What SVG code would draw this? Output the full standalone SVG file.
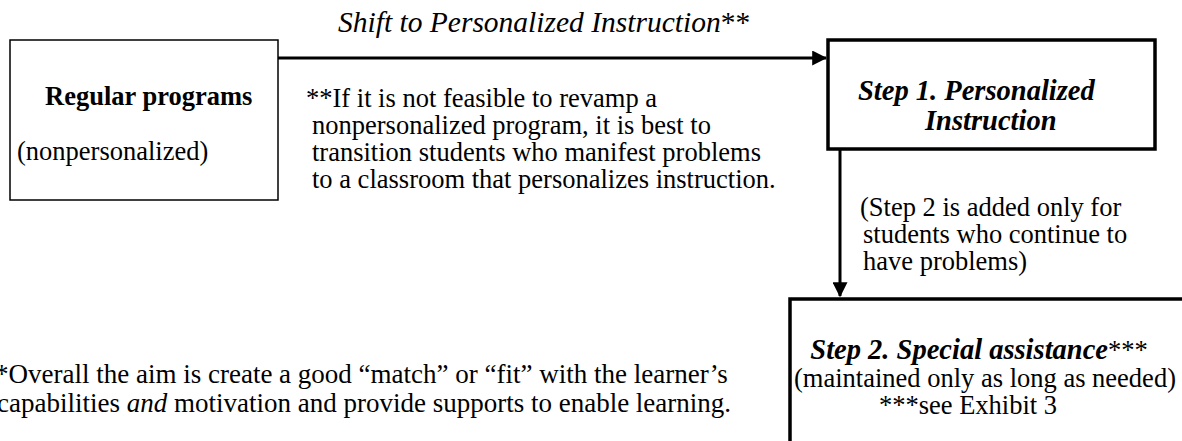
<svg xmlns="http://www.w3.org/2000/svg" width="1182" height="441" viewBox="0 0 1182 441" font-family="'Liberation Serif', 'Times New Roman', 'DejaVu Serif', serif">
<defs>
<style>
text{font-family:'Liberation Serif','Times New Roman','DejaVu Serif',serif;fill:#000;font-size:26.5px}
.b{font-weight:bold}
.bi{font-weight:bold;font-style:italic;font-size:28.5px}
.sh{font-style:italic;font-size:29.5px}
.ft{font-size:27px}
.thin{fill:#fff;stroke:#000;stroke-width:1.5}
.thick{fill:#fff;stroke:#000;stroke-width:3.5}
.conn{stroke:#000;stroke-width:3;fill:none}
</style>
<marker id="ah" markerWidth="5" markerHeight="5" refX="4.6" refY="2.5" orient="auto" markerUnits="strokeWidth">
<path d="M0,0 L5,2.5 L0,5 Z" fill="#000"/>
</marker>
</defs>
<rect width="1182" height="441" fill="#fff"/>
<g id="connectors">
<line class="conn" x1="278" y1="58" x2="826" y2="58" marker-end="url(#ah)"/>
<line class="conn" x1="840" y1="149" x2="840" y2="296" marker-end="url(#ah)"/>
</g>
<g id="regular">
<rect class="thin" x="10" y="40" width="268" height="160"/>
<text class="b" x="45" y="105">Regular programs</text>
<text x="17" y="160">(nonpersonalized)</text>
</g>
<g id="step1">
<rect class="thick" x="828" y="40" width="327" height="109"/>
<text class="bi" x="858" y="100">Step 1. Personalized</text>
<text class="bi" x="925" y="130">Instruction</text>
</g>
<g id="step2">
<path class="thick" d="M790,445 V299 H1190"/>
<text x="979" y="359" text-anchor="middle"><tspan class="bi">Step 2. Special assistance</tspan>***</text>
<text x="985" y="387" text-anchor="middle">(maintained only as long as needed)</text>
<text x="968" y="414" text-anchor="middle">***see Exhibit 3</text>
</g>
<g id="labels">
<text class="sh" x="338" y="32">Shift to Personalized Instruction<tspan font-style="normal">**</tspan></text>
<text x="306" y="107">**If it is not feasible to revamp a</text>
<text x="312" y="134">nonpersonalized program, it is best to</text>
<text x="312" y="161">transition students who manifest problems</text>
<text x="312" y="188">to a classroom that personalizes instruction.</text>
<text x="860" y="216">(Step 2 is added only for</text>
<text x="863" y="243">students who continue to</text>
<text x="863" y="270">have problems)</text>
<text class="ft" x="-5" y="383">*Overall the aim is create a good “match” or “fit” with the learner’s</text>
<text class="ft" x="-3" y="412">capabilities <tspan font-style="italic">and</tspan> motivation and provide supports to enable learning.</text>
</g>
</svg>
